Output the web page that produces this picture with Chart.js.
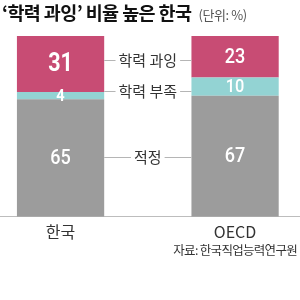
<!DOCTYPE html>
<html><head><meta charset="utf-8">
<script src="https://cdn.jsdelivr.net/npm/chart.js@4/dist/chart.umd.min.js"></script>
<style>
html,body{margin:0;padding:0;background:#fff;width:300px;height:300px;overflow:hidden;}
#wrap{position:relative;width:300px;height:300px;}
#title{position:absolute;left:2px;top:0px;font-family:'Noto Sans CJK KR';font-weight:700;font-size:18.5px;letter-spacing:-0.6px;color:#111;white-space:nowrap;line-height:25px}
#unit{font-weight:400;font-size:13px;color:#555;margin-left:7px;letter-spacing:-0.4px}
#source{position:absolute;right:3px;top:240px;font-family:'Noto Sans CJK KR';font-size:12.5px;letter-spacing:-0.7px;color:#333;white-space:nowrap;line-height:20px}
canvas{position:absolute;left:0;top:0}
</style></head><body>
<div id="wrap">
<canvas id="c" width="300" height="300"></canvas>
<div id="title">‘학력 과잉’ 비율 높은 한국<span id="unit">(단위: %)</span></div>
<div id="source">자료: 한국직업능력연구원</div>
</div>
<script>
const categories = ['한국', 'OECD'];
const seriesNames = ['적정', '학력 부족', '학력 과잉'];
const appropriate = [65, 67];
const shortage = [4, 10];
const excess = [31, 23];

const colors = ['#9c9c9c', '#93d3d3', '#c84c74'];
const numFont = "Roboto, sans-serif";
// label font per [dataset][category]
const labelFonts = [
  ['500 21px ' + numFont, '500 21px ' + numFont],
  ['bold 17px ' + numFont, '500 19px ' + numFont],
  ['bold 25px ' + numFont, '500 21px ' + numFont]
];

const seriesValues = [appropriate, shortage, excess];
const datasets = seriesValues.map((vals, i) => ({
  label: seriesNames[i],
  data: vals.map((v, j) => ({x: j, y: v})),
  backgroundColor: colors[i],
  borderWidth: 0,
  barPercentage: 0.5,
  categoryPercentage: 1
}));

const labelPlugin = {
  id: 'labels',
  afterDatasetsDraw(chart) {
    const ctx = chart.ctx;
    ctx.save();
    chart.data.datasets.forEach((ds, i) => {
      const meta = chart.getDatasetMeta(i);
      meta.data.forEach((bar, j) => {
        const v = ds.data[j].y;
        const yMid = (bar.y + bar.base) / 2;
        ctx.save();
        ctx.translate(bar.x, yMid + 1);
        ctx.scale(0.86, 1);
        ctx.font = labelFonts[i][j];
        ctx.fillStyle = '#ffffff';
        ctx.textAlign = 'center';
        ctx.textBaseline = 'middle';
        ctx.fillText(String(v), 0, 0);
        ctx.restore();
      });
    });
    ctx.font = "15px 'Noto Sans CJK KR'";
    chart.data.datasets.forEach((ds, i) => {
      const meta = chart.getDatasetMeta(i);
      const b0 = meta.data[0], b1 = meta.data[1];
      const y = ((b0.y + b0.base) / 2 + (b1.y + b1.base) / 2) / 2;
      const left = b0.x + b0.width / 2;
      const right = b1.x - b1.width / 2;
      const cx = (left + right) / 2;
      const w = ctx.measureText(ds.label).width;
      const ly = Math.round(y) + 0.5;
      ctx.strokeStyle = '#b5b5b5';
      ctx.lineWidth = 1;
      ctx.beginPath();
      ctx.moveTo(left, ly);
      ctx.lineTo(cx - w / 2 - 3, ly);
      ctx.moveTo(cx + w / 2 + 3, ly);
      ctx.lineTo(right, ly);
      ctx.stroke();
      ctx.fillStyle = '#333';
      ctx.textAlign = 'center';
      ctx.textBaseline = 'middle';
      ctx.fillText(ds.label, cx, y);
    });
    ctx.restore();
  }
};

new Chart(document.getElementById('c'), {
  type: 'bar',
  data: { datasets },
  options: {
    responsive: false,
    animation: false,
    layout: { padding: { top: 36, left: 0, right: 0, bottom: 52 } },
    plugins: { legend: { display: false }, tooltip: { enabled: false } },
    scales: {
      x: {
        type: 'linear',
        stacked: true,
        offset: false,
        min: -0.347,
        max: 1.372,
        afterBuildTicks: (scale) => { scale.ticks = categories.map((c, i) => ({value: i})); },
        grid: { display: false, drawTicks: false, offset: false },
        border: { display: true, color: '#bdbdbd', width: 1 },
        ticks: {
          padding: 6,
          autoSkip: false,
          maxRotation: 0,
          color: '#333',
          font: { family: "'Noto Sans CJK KR'", size: 16 },
          callback: (v, i) => categories[i]
        }
      },
      y: { stacked: true, display: false, min: 0, max: 100 }
    }
  },
  plugins: [labelPlugin]
});
</script>
</body></html>
